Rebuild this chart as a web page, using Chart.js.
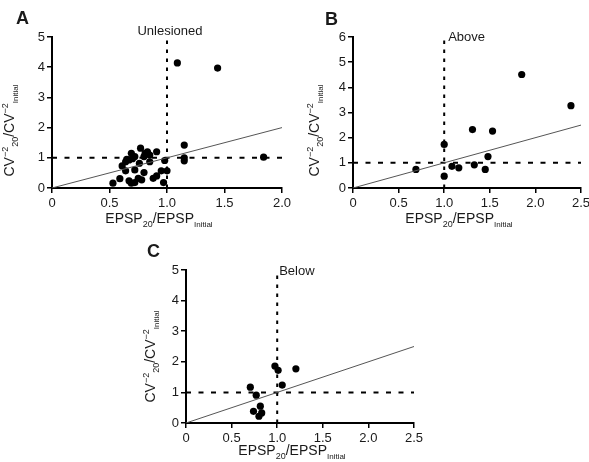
<!DOCTYPE html>
<html>
<head>
<meta charset="utf-8">
<script src="https://cdn.jsdelivr.net/npm/chart.js@4.4.1/dist/chart.umd.min.js"></script>
<style>
  html, body { margin: 0; padding: 0; background: #fff; overflow: hidden; }
  #wrap { position: relative; width: 589px; height: 462px; }
  .panel { position: absolute; }
</style>
</head>
<body>
<div id="wrap">
  <div class="panel" style="left:0px;top:0px;width:300px;height:232px"><canvas id="chartA"></canvas></div>
  <div class="panel" style="left:295px;top:0px;width:300px;height:232px"><canvas id="chartB"></canvas></div>
  <div class="panel" style="left:120px;top:230px;width:320px;height:232px"><canvas id="chartC"></canvas></div>
</div>
<script>
// Panel A - unlesioned
const unlesionedX = [0.53, 0.59, 0.61, 0.64, 0.65, 0.64, 0.67, 0.69, 0.72, 0.67, 0.69, 0.72, 0.72, 0.75, 0.76,
  0.77, 0.78, 0.80, 0.80, 0.81, 0.83, 0.85, 0.85, 0.88, 0.91, 0.91, 0.95, 1.00, 0.98, 0.97, 0.70, 1.09, 1.44,
  1.84, 1.15, 1.15, 1.15];
const unlesionedY = [0.16, 0.31, 0.73, 0.87, 0.95, 0.57, 0.93, 1.15, 1.04, 0.24, 0.16, 0.18, 0.60, 0.32, 0.82,
  1.32, 0.27, 1.04, 0.51, 1.15, 1.20, 1.09, 0.87, 0.32, 0.40, 1.20, 0.57, 0.57, 0.91, 0.18, 0.97, 4.14, 3.97,
  1.02, 1.42, 1.00, 0.90];

// Panel B - above
const aboveX = [0.69, 1.00, 1.00, 1.085, 1.16, 1.31, 1.33, 1.45, 1.48, 1.53, 1.85, 2.39];
const aboveY = [0.74, 1.73, 0.47, 0.86, 0.80, 2.32, 0.92, 0.74, 1.25, 2.26, 4.51, 3.27];

// Panel C - below
const belowX = [0.975, 1.01, 1.205, 1.055, 0.705, 0.77, 0.815, 0.74, 0.83, 0.80];
const belowY = [1.86, 1.72, 1.77, 1.24, 1.17, 0.91, 0.55, 0.38, 0.33, 0.22];

// axis ticks
const xTicksA = [0, 0.5, 1.0, 1.5, 2.0];
const xTicksBC = [0, 0.5, 1.0, 1.5, 2.0, 2.5];
const yTicksA = [0, 1, 2, 3, 4, 5];
const yTicksB = [0, 1, 2, 3, 4, 5, 6];

const FONT = '"Liberation Sans", Arial, sans-serif';

const xTitle = [
  { text: "EPSP", size: 14 },
  { text: "20", size: 9, dy: 4 },
  { text: "/EPSP", size: 14 },
  { text: "Initial", size: 8, dy: 4 }
];
const yTitle = [
  { text: "CV", size: 14 },
  { text: "\u22122", size: 9, dy: -6 },
  { text: "20", size: 9, dy: 4 },
  { text: "/CV", size: 14 },
  { text: "\u22122", size: 9, dy: -6 },
  { text: "Initial", size: 8, dy: 4 }
];

function richWidth(ctx, parts) {
  let w = 0;
  parts.forEach(p => {
    ctx.font = p.size + "px " + FONT;
    w += ctx.measureText(p.text).width;
  });
  return w;
}

function drawRich(ctx, parts, x, y) {
  let cx = x;
  parts.forEach(p => {
    ctx.font = p.size + "px " + FONT;
    ctx.fillText(p.text, cx, y + (p.dy || 0));
    cx += ctx.measureText(p.text).width;
  });
}

// draws panel letter, condition label and the axis titles (sub/superscripts)
const textPlugin = {
  id: "panelText",
  afterDraw(chart) {
    const o = chart.options.plugins.panelText;
    const ctx = chart.ctx;
    const area = chart.chartArea;
    const lineX = chart.scales.x.getPixelForValue(1);
    ctx.save();
    ctx.fillStyle = "#1a1a1a";
    ctx.textBaseline = "alphabetic";

    ctx.font = "bold 18px " + FONT;
    ctx.textAlign = "left";
    ctx.fillText(o.letter, o.letterX, o.letterY);

    ctx.font = "13px " + FONT;
    ctx.textAlign = o.centerLabel ? "center" : "left";
    ctx.fillText(o.label, lineX + o.labelDx, area.top + o.labelDy);

    ctx.textAlign = "left";
    const xw = richWidth(ctx, xTitle);
    drawRich(ctx, xTitle, (area.left + area.right) / 2 - 8 - xw / 2, area.bottom + o.xTitleDy);

    const yw = richWidth(ctx, yTitle);
    ctx.translate(area.left - o.yTitleDx, (area.top + area.bottom) / 2 + o.yTitleShift);
    ctx.rotate(-Math.PI / 2);
    drawRich(ctx, yTitle, -yw / 2, 0);
    ctx.restore();
  }
};

function makePanel(id, xs, ys, xMax, yMax, xTicks, yTicks, pad, text) {
  const points = xs.map((x, i) => ({ x: x, y: ys[i] }));
  const ctx = document.getElementById(id).getContext("2d");

  new Chart(ctx, {
    type: "scatter",
    data: {
      datasets: [
        {
          // identity line
          data: [{ x: 0, y: 0 }, { x: xMax, y: xMax }],
          showLine: true,
          borderColor: "#555",
          borderWidth: 1,
          pointRadius: 0
        },
        {
          data: [{ x: 0, y: 1 }, { x: xMax, y: 1 }],
          showLine: true,
          borderColor: "#000",
          borderWidth: 2,
          borderDash: [5, 7.5],
          pointRadius: 0
        },
        {
          data: [{ x: 1, y: 0 }, { x: 1, y: yMax }],
          showLine: true,
          borderColor: "#000",
          borderWidth: 2,
          borderDash: [3.5, 5.5],
          pointRadius: 0
        },
        {
          data: points,
          pointRadius: 3.6,
          pointBorderWidth: 0,
          backgroundColor: "#000"
        }
      ]
    },
    options: {
      responsive: false,
      animation: false,
      events: [],
      layout: { padding: pad },
      plugins: {
        legend: { display: false },
        tooltip: { enabled: false },
        panelText: text
      },
      scales: {
        x: {
          type: "linear",
          min: 0,
          max: xMax,
          afterBuildTicks: s => { s.ticks = xTicks.map(v => ({ value: v })); },
          afterFit: s => { s.height = 24; },
          grid: { drawOnChartArea: false, color: "#000", lineWidth: 1.5, tickLength: 5 },
          border: { color: "#000", width: 2 },
          ticks: {
            color: "#1a1a1a",
            padding: 3,
            maxRotation: 0,
            font: { family: FONT, size: 13 },
            callback: v => (v === 0 ? "0" : v.toFixed(1))
          }
        },
        y: {
          type: "linear",
          min: 0,
          max: yMax,
          afterBuildTicks: s => { s.ticks = yTicks.map(v => ({ value: v })); },
          afterFit: s => { s.width = 30; },
          grid: { drawOnChartArea: false, color: "#000", lineWidth: 1.5, tickLength: 5 },
          border: { color: "#000", width: 2 },
          ticks: {
            color: "#1a1a1a",
            padding: 2,
            font: { family: FONT, size: 13 },
            callback: v => String(v)
          }
        }
      }
    },
    plugins: [textPlugin]
  });
}

function sizeCanvas(id, w, h) {
  const c = document.getElementById(id);
  c.width = w;
  c.height = h;
  c.style.width = w + "px";
  c.style.height = h + "px";
}

sizeCanvas("chartA", 300, 232);
sizeCanvas("chartB", 300, 232);
sizeCanvas("chartC", 320, 232);

makePanel("chartA", unlesionedX, unlesionedY, 2.0, 5, xTicksA, yTicksA,
  { left: 22, right: 18, top: 37, bottom: 20 },
  { letter: "A", letterX: 16, letterY: 24, label: "Unlesioned", centerLabel: true, labelDx: 3, labelDy: -2,
    xTitleDy: 35, yTitleDx: 38, yTitleShift: 18 });

makePanel("chartB", aboveX, aboveY, 2.5, 6, xTicksBC, yTicksB,
  { left: 28, right: 14, top: 37, bottom: 20 },
  { letter: "B", letterX: 30, letterY: 25, label: "Above", centerLabel: false, labelDx: 4, labelDy: 4,
    xTitleDy: 35, yTitleDx: 34, yTitleShift: 18 });

makePanel("chartC", belowX, belowY, 2.5, 5, xTicksBC, yTicksA,
  { left: 36, right: 26, top: 40, bottom: 15 },
  { letter: "C", letterX: 27, letterY: 27, label: "Below", centerLabel: false, labelDx: 2, labelDy: 5,
    xTitleDy: 32, yTitleDx: 31, yTitleShift: 10 });
</script>
</body>
</html>
